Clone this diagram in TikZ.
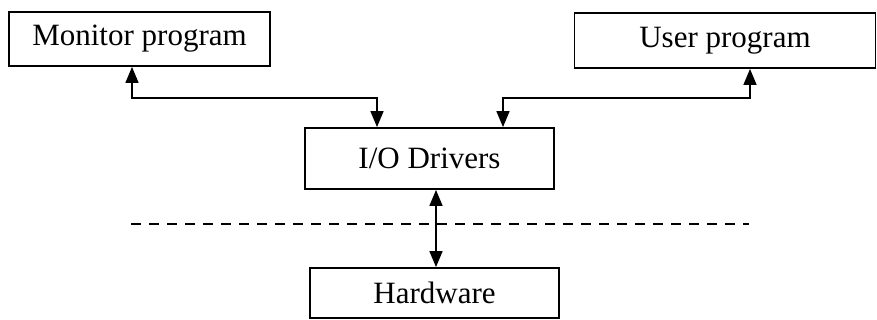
\documentclass[tikz,border=0pt]{standalone}
\usepackage{fontspec}
\setmainfont{Liberation Serif}
\usetikzlibrary{arrows.meta, positioning, calc}

\begin{document}
\begin{tikzpicture}[
  x=1pt, y=-1pt,
  blk/.style={draw, line width=1.8pt, inner sep=0pt, align=center, font=\fontsize{31pt}{37pt}\selectfont},
  link/.style={line width=1.5pt, {Triangle[length=16pt, width=13pt]}-{Triangle[length=16pt, width=13pt]}},
  sepline/.style={line width=2pt, dash pattern=on 10pt off 8pt}
]
  \useasboundingbox (0,0) rectangle (877,320);

  \node[blk, minimum width=261pt, minimum height=54pt] (monitor) at (139.5,39) {Monitor program};
  \node[blk, minimum width=301pt, minimum height=55pt] (user) at (725,40.5) {User program};
  \node[blk, minimum width=249pt, minimum height=61pt] (drivers) at (429.5,158.5) {I/O Drivers};
  \node[blk, minimum width=249pt, minimum height=50pt, text depth=0pt] (hw) at (434.5,293) {Hardware};

  \draw[link] ([xshift=-7.5pt]monitor.south) -- ++(0,31) -| ([xshift=-52.5pt]drivers.north);
  \draw[link] ([xshift=25pt]user.south) -- ++(0,29) -| ([xshift=73.5pt]drivers.north);
  \draw[link] ([xshift=6.5pt]drivers.south) -- ([xshift=6.5pt]drivers.south |- hw.north);

  \coordinate (sepL) at (131,224);
  \coordinate (sepR) at (749,224);
  \draw[sepline] (sepL) -- (sepR);
\end{tikzpicture}
\end{document}
